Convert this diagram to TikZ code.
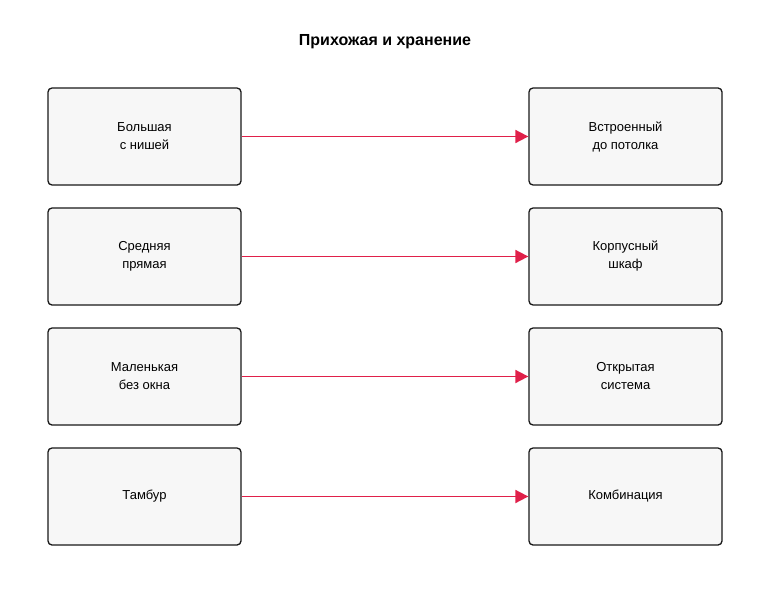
\documentclass[tikz,border=0pt]{standalone}
\usepackage{fontspec}
\setmainfont{Liberation Sans}
\usetikzlibrary{arrows.meta}
\definecolor{boxfill}{HTML}{F7F7F7}
\definecolor{linkred}{HTML}{E0204A}
\tikzset{
  room/.style={draw=black!90, fill=boxfill, line width=1.3pt, rounded corners=4pt,
    minimum width=193pt, minimum height=97pt, align=center,
    font=\fontsize{13}{18}\selectfont},
  link/.style={draw=linkred, line width=1.8pt, -{Triangle[length=13pt,width=13pt]}}
}
\begin{document}
\begin{tikzpicture}[x=1pt,y=-1pt]
    % Canvas
    \useasboundingbox (0,0) rectangle (770,610);

    % Title
    \node[font=\fontsize{16}{20}\selectfont\bfseries] (title) at (385,42) {Прихожая и хранение};

    % Hallway types
    \node[room] (big)    at (144.5,136.5) {Большая\\с нишей};
    \node[room] (medium) at (144.5,256.5) {Средняя\\прямая};
    \node[room] (small)  at (144.5,376.5) {Маленькая\\без окна};
    \node[room] (tambur) at (144.5,496.5) {Тамбур};

    % Storage options
    \node[room] (builtin) at (625.5,136.5) {Встроенный\\до потолка};
    \node[room] (cabinet) at (625.5,256.5) {Корпусный\\шкаф};
    \node[room] (open)    at (625.5,376.5) {Открытая\\система};
    \node[room] (combo)   at (625.5,496.5) {Комбинация};

    % Links
    \draw[link] (big) -- (builtin);
    \draw[link] (medium) -- (cabinet);
    \draw[link] (small) -- (open);
    \draw[link] (tambur) -- (combo);
\end{tikzpicture}
\end{document}
